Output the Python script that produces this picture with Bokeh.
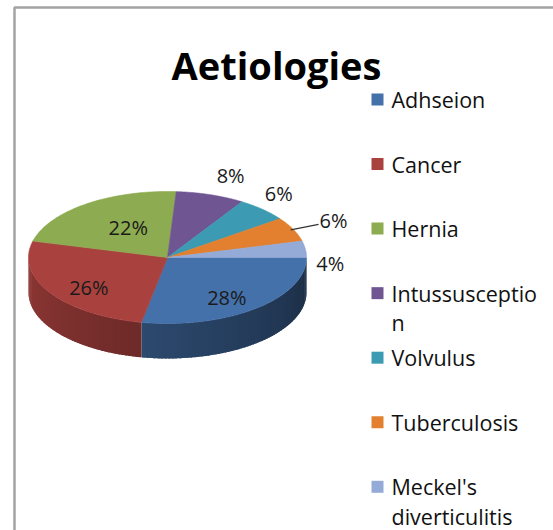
import numpy as np
from bokeh.plotting import figure
from bokeh.models import Range1d
from bokeh.core.properties import value
from bokeh.embed import file_html
from bokeh.resources import INLINE

# ---------------- data ----------------
title = "Aetiologies"
categories = ["Adhseion", "Cancer", "Hernia", "Intussusception", "Volvulus",
              "Tuberculosis", "Meckel's diverticulitis"]
legend_labels = ["Adhseion", "Cancer", "Hernia", "Intussusceptio\nn", "Volvulus",
                 "Tuberculosis", "Meckel's\ndiverticulitis"]
percent = [28, 26, 22, 8, 6, 6, 4]

# ---------------- styles / layout ----------------
colors = ["#4571AA", "#A9423F", "#8DAB50", "#705593", "#3C9BB3", "#E2802F", "#94AAD7"]
W, H = 553, 530
CX, CY, RA, RB, DEPTH = 167, 257, 139, 66, 35
# label placement factors relative to the ellipse (layout only)
label_kx = [0.67, 0.67, 0.48, 1.47, 1.17, 1.32, 1.18]
label_ky = [0.78, 0.85, 0.56, 1.31, 1.33, 1.32, -0.73]
FONT = "Open Sans"

p = figure(width=W, height=H, x_range=Range1d(0, W), y_range=Range1d(H, 0),
           output_backend="svg", toolbar_location=None, min_border=0,
           x_axis_location=None, y_axis_location=None)
p.grid.visible = False
p.outline_line_color = None
p.background_fill_color = "white"
p.border_fill_color = "white"


def shade(hexcol, f):
    r, g, b = (int(hexcol[i:i + 2], 16) for i in (1, 3, 5))
    return "#%02x%02x%02x" % (int(r * f), int(g * f), int(b * f))


vals = np.array(percent, dtype=float)
ends = np.cumsum(vals) / vals.sum() * 2 * np.pi
starts = np.concatenate([[0.0], ends[:-1]])

# ---- side walls (front half only), overlapping strips for a smooth gradient ----
sx, sy, sc = [], [], []
for i in range(len(vals)):
    lo, hi = max(starts[i], 0.0), min(ends[i], np.pi)
    if lo >= hi:
        continue
    n = max(2, int(np.degrees(hi - lo) / 1.5))
    ts = np.linspace(lo, hi, n + 1)
    d = (hi - lo) / n
    for u, v in zip(ts[:-1], ts[1:]):
        v2 = min(v + 0.7 * d, hi)
        us = np.linspace(u, v2, 4)
        xs = list(CX + RA * np.cos(us))
        ys = list(CY + RB * np.sin(us))
        sx.append(xs + xs[::-1])
        sy.append(ys + [y + DEPTH for y in ys[::-1]])
        tm = np.degrees((u + v) / 2)
        sc.append(shade(colors[i], 0.40 + 0.0025 * tm))
p.patches(sx, sy, fill_color=sc, line_color=None)

# ---- top faces ----
tx, ty = [], []
for i in range(len(vals)):
    ts = np.linspace(starts[i], ends[i], 80)
    tx.append([CX] + list(CX + RA * np.cos(ts)))
    ty.append([CY] + list(CY + RB * np.sin(ts)))
p.patches(tx, ty, fill_color=colors, line_color=colors, line_width=0.6)

# ---- data labels ----
mids = (starts + ends) / 2
lx = [CX + RA * kx * np.cos(m) for kx, m in zip(label_kx, mids)]
ly = [CY + RB * ky * np.sin(m) for ky, m in zip(label_ky, mids)]
ltxt = ["%d%%" % v for v in percent]
p.text(x=lx, y=ly, text=ltxt, text_align="center", text_baseline="middle",
       text_font=value(FONT), text_font_size="20px", text_color="#1a1a1a")

# leader line for the Tuberculosis label
k = 5
p.line(x=[CX + RA * 0.98 * np.cos(mids[k]), lx[k] - 15],
       y=[CY + RB * 0.98 * np.sin(mids[k]), ly[k] + 4],
       line_color="#333333", line_width=1.3)

# ---- title ----
p.text(x=[276], y=[64], text=[title], text_align="center", text_baseline="middle",
       text_font=value(FONT), text_font_style="bold", text_font_size="38px",
       text_color="#000000")

# ---- legend ----
step = 64.55
ly0 = 99
sq_y = [ly0 + i * step for i in range(len(legend_labels))]
p.scatter(x=[377] * len(sq_y), y=sq_y, marker="square", size=12,
          fill_color=colors, line_color=None)
gx, gy, gt = [], [], []
for yy, lab in zip(sq_y, legend_labels):
    for j, part in enumerate(lab.split("\n")):
        gx.append(391)
        gy.append(yy + j * 29.5)
        gt.append(part)
p.text(x=gx, y=gy, text=gt, text_align="left", text_baseline="middle",
       text_font=value(FONT), text_font_size="21.5px", text_color="#111111")

# ---- chart-area border ----
p.line(x=[14, 14, 700], y=[700, 7, 7], line_color="#A3A3A3", line_width=2.5)

open("out.html", "w").write(file_html(p, INLINE))
